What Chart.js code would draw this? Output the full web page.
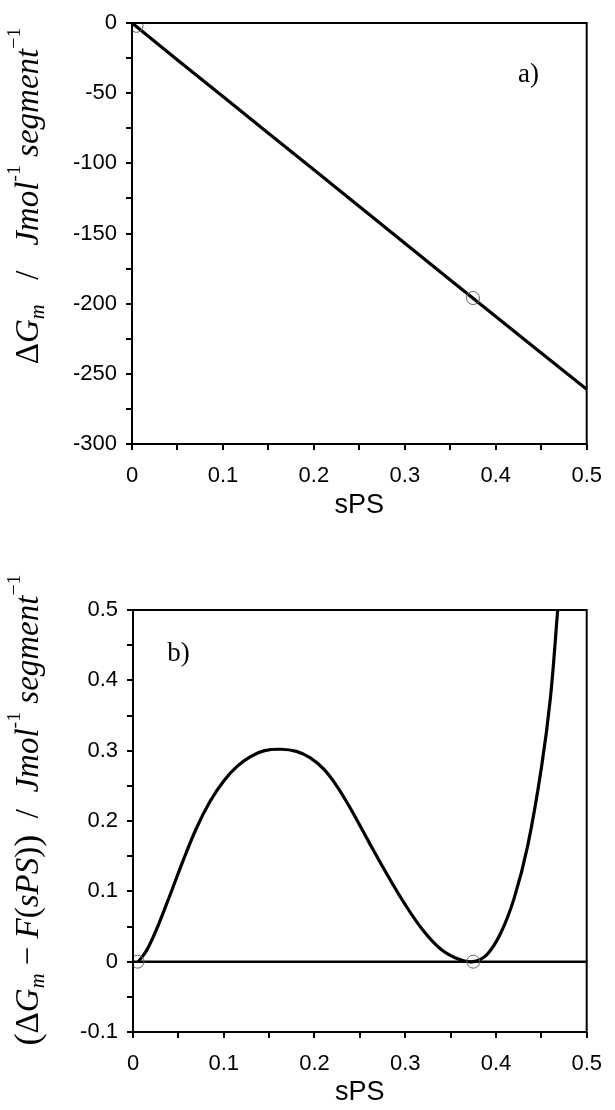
<!DOCTYPE html>
<html>
<head>
<meta charset="utf-8">
<script src="https://cdn.jsdelivr.net/npm/chart.js@4.4.0/dist/chart.umd.min.js"></script>
<style>
  body { margin: 0; background: #fff; width: 615px; height: 1110px; position: relative; overflow: hidden; }
  canvas { position: absolute; left: 0; }
</style>
</head>
<body>
<canvas id="chartA" width="615" height="540" style="top:0"></canvas>
<canvas id="chartB" width="615" height="570" style="top:540px"></canvas>
<script>
// x axis (shared)
const xTickVals = [0, 0.05, 0.1, 0.15, 0.2, 0.25, 0.3, 0.35, 0.4, 0.45, 0.5];
const xTickText = ['0', '', '0.1', '', '0.2', '', '0.3', '', '0.4', '', '0.5'];

// panel a) mixing free energy
const sPS_a = [0, 0.05, 0.1, 0.15, 0.2, 0.25, 0.3, 0.35, 0.4, 0.45, 0.5];
const dGm = [0, -26.3, -52.4, -78.5, -104.6, -130.7, -156.9, -183.1, -209.2, -235.1, -261];
const binodalX = [0.005, 0.375];
const binodalA = [-2, -196];
const yTickValsA = [-300, -275, -250, -225, -200, -175, -150, -125, -100, -75, -50, -25, 0];
const yTickTextA = ['-300', '', '-250', '', '-200', '', '-150', '', '-100', '', '-50', '', '0'];

// panel b) dGm minus tangent line
const sPS_b = [0.006, 0.015, 0.025, 0.04, 0.055, 0.07, 0.085, 0.1, 0.115, 0.13, 0.145, 0.163,
  0.18, 0.195, 0.21, 0.225, 0.24, 0.26, 0.28, 0.3, 0.32, 0.34, 0.36, 0.375,
  0.39, 0.405, 0.42, 0.435, 0.45, 0.46, 0.468, 0.474];
const dGmMinusF = [0, 0.016, 0.043, 0.092, 0.143, 0.19, 0.228, 0.257, 0.278, 0.292, 0.3, 0.302,
  0.299, 0.29, 0.274, 0.249, 0.217, 0.17, 0.124, 0.081, 0.044, 0.017, 0.003, 0,
  0.01, 0.04, 0.09, 0.165, 0.275, 0.375, 0.5, 0.6];
const binodalB = [0, 0];
const zeroLineX = [0, 0.5];
const zeroLineY = [0, 0];
const yTickValsB = [-0.1, -0.05, 0, 0.05, 0.1, 0.15, 0.2, 0.25, 0.3, 0.35, 0.4, 0.45, 0.5];
const yTickTextB = ['-0.1', '', '0', '', '0.1', '', '0.2', '', '0.3', '', '0.4', '', '0.5'];

const pts = (xs, ys) => xs.map((x, i) => ({ x, y: ys[i] }));

const sans = 'Arial, "Liberation Sans", sans-serif';
const serif = '"Liberation Serif", "Times New Roman", serif';
const S = 33;
const up = s => `${s}px ${serif}`;
const it = s => `italic ${s}px ${serif}`;
const sub = { f: it(S * 0.62), dy: 0.28 * S };
const sup = { f: up(S * 0.6), dy: -0.42 * S };

const titleA = [
  { t: 'Δ', f: up(S) }, { t: 'G', f: it(S) }, { t: 'm', ...sub },
  { t: '   /   ', f: up(S) },
  { t: 'Jmol', f: it(S) }, { t: '-1', ...sup },
  { t: ' segment', f: it(S) }, { t: '−1', ...sup }
];
const titleB = [
  { t: '(', f: up(S * 1.1) }, { t: 'Δ', f: up(S) }, { t: 'G', f: it(S) }, { t: 'm', ...sub },
  { t: ' − ', f: up(S) }, { t: 'F', f: it(S) }, { t: '(', f: up(S) }, { t: 'sPS', f: it(S) },
  { t: ')', f: up(S) }, { t: ')', f: up(S * 1.1) },
  { t: '  /  ', f: up(S) },
  { t: 'Jmol', f: it(S) }, { t: '-1', ...sup },
  { t: ' segment', f: it(S) }, { t: '−1', ...sup }
];

function drawRich(ctx, runs, cx, cy) {
  let total = 0;
  runs.forEach(r => { ctx.font = r.f; r.w = ctx.measureText(r.t).width; total += r.w; });
  ctx.save();
  ctx.translate(cx, cy);
  ctx.rotate(-Math.PI / 2);
  ctx.textAlign = 'left';
  ctx.textBaseline = 'middle';
  ctx.fillStyle = '#000';
  let x = -total / 2;
  runs.forEach(r => { ctx.font = r.f; ctx.fillText(r.t, x, r.dy || 0); x += r.w; });
  ctx.restore();
}

const decor = {
  id: 'decor',
  afterDraw(chart, args, o) {
    const { ctx, chartArea: a, scales } = chart;
    ctx.save();
    ctx.strokeStyle = '#000';
    ctx.lineWidth = 2;
    ctx.strokeRect(a.left, a.top, a.right - a.left, a.bottom - a.top);
    ctx.font = `27px ${serif}`;
    ctx.fillStyle = '#000';
    ctx.textAlign = 'center';
    ctx.textBaseline = 'middle';
    ctx.fillText(o.letter, scales.x.getPixelForValue(o.letterAt[0]), scales.y.getPixelForValue(o.letterAt[1]));
    ctx.restore();
    drawRich(ctx, o.title, o.titleX, o.titleY);
  }
};

function scalesFor(yMin, yMax, yVals, yText, yWidth, xHeight, titlePadBottom) {
  return {
    x: {
      type: 'linear', min: 0, max: 0.5,
      afterBuildTicks: s => { s.ticks = xTickVals.map(v => ({ value: v })); },
      afterFit: s => { s.height = xHeight; },
      ticks: { callback: (v, i) => xTickText[i], font: { family: sans, size: 22 }, color: '#000', padding: 13, maxRotation: 0, autoSkip: false },
      grid: { drawOnChartArea: false, drawTicks: true, tickLength: 6, color: '#000', lineWidth: 2 },
      border: { display: false },
      title: { display: true, text: 'sPS', font: { family: sans, size: 27 }, color: '#000', padding: { top: 0, bottom: titlePadBottom } }
    },
    y: {
      type: 'linear', min: yMin, max: yMax,
      afterBuildTicks: s => { s.ticks = yVals.map(v => ({ value: v })); },
      afterFit: s => { s.width = yWidth; },
      ticks: { callback: (v, i) => yText[i], font: { family: sans, size: 22 }, color: '#000', padding: 9, autoSkip: false },
      grid: { drawOnChartArea: false, drawTicks: true, tickLength: 6, color: '#000', lineWidth: 2 },
      border: { display: false }
    }
  };
}

const circleSet = data => ({
  type: 'scatter', data, pointStyle: 'circle', pointRadius: 6.5,
  pointBorderColor: '#666', pointBorderWidth: 1, pointBackgroundColor: 'rgba(0,0,0,0)', showLine: false
});

new Chart(document.getElementById('chartA'), {
  type: 'line',
  data: {
    datasets: [
      circleSet(pts(binodalX, binodalA)),
      { data: pts(sPS_a, dGm), borderColor: '#000', borderWidth: 3.2, pointRadius: 0, fill: false }
    ]
  },
  options: {
    responsive: false, animation: false,
    layout: { padding: { left: 0, right: 15, top: 23, bottom: 0 } },
    scales: scalesFor(-300, 0, yTickValsA, yTickTextA, 132, 96, 18),
    plugins: {
      legend: { display: false }, tooltip: { enabled: false },
      decor: { letter: 'a)', letterAt: [0.436, -37], title: titleA, titleX: 29, titleY: 196 }
    }
  },
  plugins: [decor]
});

new Chart(document.getElementById('chartB'), {
  type: 'line',
  data: {
    datasets: [
      circleSet(pts(binodalX, binodalB)),
      { data: pts(zeroLineX, zeroLineY), borderColor: '#000', borderWidth: 2.5, pointRadius: 0, fill: false },
      { data: pts(sPS_b, dGmMinusF), borderColor: '#000', borderWidth: 3.2, pointRadius: 0, fill: false, tension: 0.35 }
    ]
  },
  options: {
    responsive: false, animation: false,
    layout: { padding: { left: 0, right: 14, top: 70, bottom: 0 } },
    scales: scalesFor(-0.1, 0.5, yTickValsB, yTickTextB, 133, 78, 1),
    plugins: {
      legend: { display: false }, tooltip: { enabled: false },
      decor: { letter: 'b)', letterAt: [0.05, 0.438], title: titleB, titleX: 29, titleY: 270 }
    }
  },
  plugins: [decor]
});
</script>
</body>
</html>
